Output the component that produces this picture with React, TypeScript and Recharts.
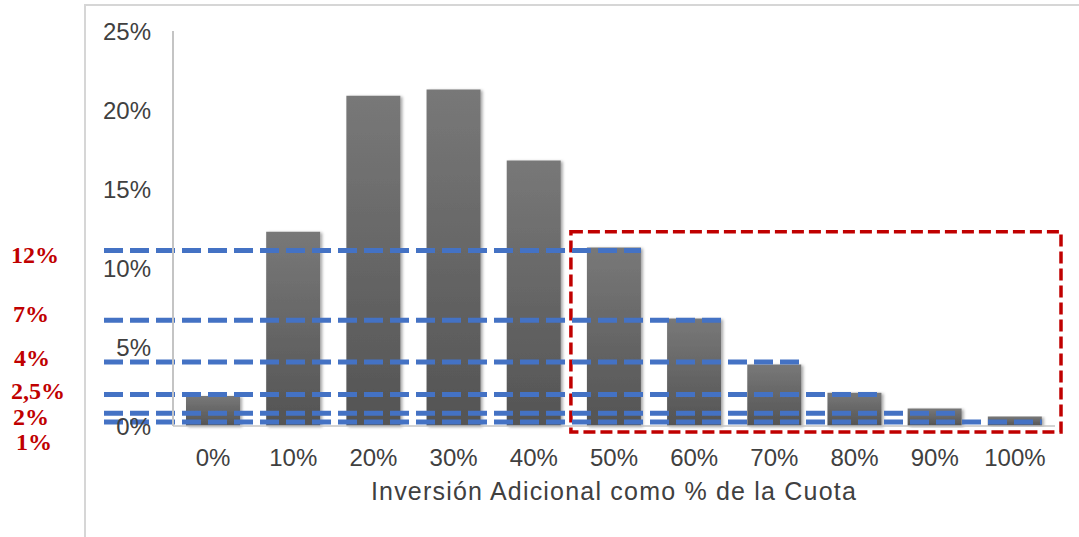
import React from 'react';
import { BarChart, Bar, XAxis, YAxis, ReferenceLine, ReferenceArea, Label } from 'recharts';

const categories = ['0%', '10%', '20%', '30%', '40%', '50%', '60%', '70%', '80%', '90%', '100%'];
const shares = [1.9, 12.3, 20.9, 21.3, 16.8, 11.3, 6.8, 3.9, 2.1, 1.1, 0.6];
const yTicks = [0, 5, 10, 15, 20, 25];

const guideLevels = [11.1, 6.7, 4.05, 2.0, 0.8, 0.25];
const guideEnds = ['50%', '60%', '70%', '80%', '90%', '100%'];
const guideLabels = ['12%', '7%', '4%', '2,5%', '2%', '1%'];

const boxFrom = '50%';
const boxTo = '100%';
const boxLow = -0.38;
const boxHigh = 12.3;

const xTitle = 'Inversión Adicional como % de la Cuota';

// layout of the red annotation labels (pixels)
const labelLayout = [
  { left: 11, center: 255 },
  { left: 13, center: 314 },
  { left: 14, center: 358 },
  { left: 11, center: 391 },
  { left: 13, center: 417 },
  { left: 16, center: 442 },
];

const data = categories.map((c, i) => ({ cat: c, v: shares[i] }));

const BLUE = '#4472C4';
const RED = '#C00000';

export default function App() {
  return (
    <div
      style={{
        position: 'absolute',
        left: 0,
        top: 0,
        width: 1079,
        height: 537,
        background: '#ffffff',
        overflow: 'hidden',
        fontFamily: '"Liberation Sans", Arial, sans-serif',
      }}
    >
      <div
        style={{
          position: 'absolute',
          left: 84,
          top: 4,
          width: 1100,
          height: 600,
          borderTop: '2px solid #d6d6d6',
          borderLeft: '2px solid #d6d6d6',
        }}
      />
      <div style={{ position: 'absolute', left: 0, top: 0 }}>
        <BarChart
          width={1079}
          height={537}
          data={data}
          margin={{ top: 31, right: 24, bottom: 0, left: 0 }}
        >
          <defs>
            <linearGradient id="barGrad" x1="0" y1="0" x2="0" y2="1">
              <stop offset="0%" stopColor="#787878" />
              <stop offset="100%" stopColor="#545454" />
            </linearGradient>
            <filter id="barShadow" x="-20%" y="-5%" width="140%" height="115%">
              <feDropShadow dx="2" dy="1" stdDeviation="1.8" floodColor="#000000" floodOpacity="0.35" />
            </filter>
          </defs>
          <XAxis
            dataKey="cat"
            height={111}
            tickLine={false}
            axisLine={{ stroke: '#c4c4c4', strokeWidth: 1.5 }}
            tick={{ fill: '#404040', fontSize: 24 }}
            tickMargin={17}
            interval={0}
          >
            <Label
              value={xTitle}
              position="insideBottom"
              offset={37}
              style={{ fill: '#404040', fontSize: 25, letterSpacing: 1.2 }}
            />
          </XAxis>
          <YAxis
            width={173}
            domain={[0, 25]}
            ticks={yTicks}
            tickFormatter={(v: number) => `${v}%`}
            tickLine={false}
            axisLine={{ stroke: '#c4c4c4', strokeWidth: 2 }}
            tick={{ fill: '#404040', fontSize: 24 }}
            tickMargin={16}
          />
          <Bar
            dataKey="v"
            barSize={54}
            fill="url(#barGrad)"
            filter="url(#barShadow)"
            isAnimationActive={false}
          />
          <ReferenceArea
            x1={boxFrom}
            x2={boxTo}
            y1={boxLow}
            y2={boxHigh}
            ifOverflow="visible"
            shape={(p: any) => (
              <rect
                x={p.x - 3}
                y={p.y}
                width={p.width + 9}
                height={p.height}
                fill="none"
                stroke={RED}
                strokeWidth={3.5}
                strokeDasharray="12 5"
              />
            )}
          />
          {guideLevels.map((lv, i) => (
            <ReferenceLine
              key={i}
              segment={[
                { x: categories[0], y: lv },
                { x: guideEnds[i], y: lv },
              ]}
              ifOverflow="visible"
              shape={(p: any) => (
                <line
                  x1={104}
                  y1={p.y1}
                  x2={p.x2 + 27}
                  y2={p.y2}
                  stroke={BLUE}
                  strokeWidth={5}
                  strokeDasharray="19 7"
                />
              )}
            />
          ))}
        </BarChart>
      </div>
      {guideLabels.map((t, i) => (
        <div
          key={t}
          style={{
            position: 'absolute',
            left: labelLayout[i].left,
            top: labelLayout[i].center - 12,
            fontFamily: '"Liberation Serif", "Times New Roman", serif',
            fontWeight: 'bold',
            fontSize: 24,
            lineHeight: '24px',
            color: RED,
            whiteSpace: 'nowrap',
          }}
        >
          {t}
        </div>
      ))}
    </div>
  );
}
